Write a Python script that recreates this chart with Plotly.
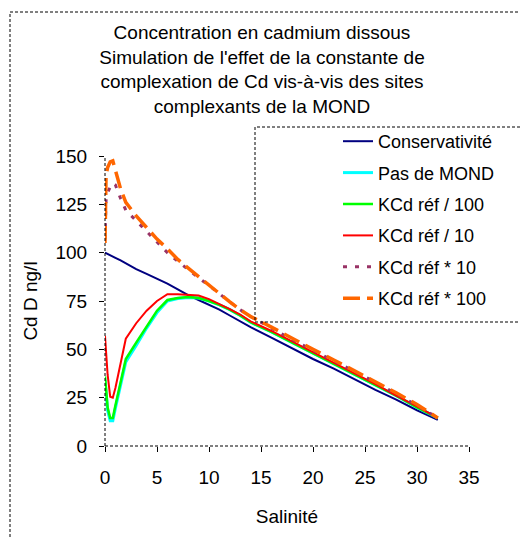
import plotly.graph_objects as go

salinity = [0, 0.1, 0.25, 0.5, 0.75, 1, 1.5, 2, 3, 4, 5, 6, 7, 8, 9, 10, 11, 12, 13, 14,
            16, 18, 20, 22, 24, 26, 28, 30, 32]

conservativite = [100, 99.7, 99.3, 98.7, 98, 97.3, 96, 94.5, 91.5, 89, 86.5, 84, 81, 78, 75.5,
                  73, 70.5, 67.5, 64.5, 61.5, 56, 50.5, 45, 40, 34.5, 29, 24, 18.5, 13.5]
pas_de_mond = [34, 28, 18.5, 13, 13, 19.5, 31.5, 43.5, 52, 61, 69, 75, 76.3, 76.8, 76.5,
               75, 73, 70.5, 67.5, 64, 59, 53.5, 48, 42.5, 37, 31.5, 26, 20, 14.5]
kcd_div100 = [36, 30, 20, 14.5, 14.5, 21, 33, 45, 53.5, 62, 70, 75.5, 76.5, 77, 76.5,
              75, 73, 70.5, 67.5, 64, 59, 53.5, 48, 42.5, 37, 31.5, 26, 20, 14.5]
kcd_div10 = [57, 48, 37, 25.5, 25, 30, 43, 55.5, 63.5, 70, 75, 78.5, 78.5, 78, 77.8,
             76, 73.5, 70.8, 68, 64.5, 59.5, 54, 48.5, 43, 37.5, 32, 26, 20.5, 14.5]
kcd_x10 = [107, 127, 131, 134, 136, 135, 128, 122, 116.5, 111, 105, 100, 95.5, 91, 87,
           83, 78.5, 74.5, 70.5, 67, 61, 55, 49.5, 44, 38.5, 33, 27, 21, 14.5]
kcd_x100 = [105, 140, 144, 147, 147.5, 143, 133, 126, 119, 113, 107, 102, 96.5, 92, 87.5,
            83, 78.5, 74.5, 70.5, 67, 61.5, 55.5, 50, 44.5, 39, 33.5, 27.5, 21.5, 14.5]

series_names = ["Conservativité", "Pas de MOND", "KCd réf / 100", "KCd réf / 10",
                "KCd réf * 10", "KCd réf * 100"]
series_values = [conservativite, pas_de_mond, kcd_div100, kcd_div10, kcd_x10, kcd_x100]
series_colors = ["#000080", "#00FFFF", "#00FF00", "#FF0000", "#993366", "#FF6600"]
series_widths = [2, 3, 2.5, 2, 3, 3.5]
series_dash = ["solid", "solid", "solid", "solid", "4px,8px", "17px,7px"]

x_ticks = [0, 5, 10, 15, 20, 25, 30, 35]
y_ticks = [0, 25, 50, 75, 100, 125, 150]

title_text = ("Concentration en cadmium dissous<br>Simulation de l'effet de la constante de<br>"
              "complexation de Cd vis-à-vis des sites<br>complexants de la MOND")

FONT = "Liberation Sans, Arial, sans-serif"

fig = go.Figure()
for i, (name, vals, col, w, d) in enumerate(zip(series_names, series_values, series_colors,
                                                 series_widths, series_dash)):
    fig.add_trace(go.Scatter(x=salinity, y=vals, mode="lines", name=name,
                             legendgroup=f"g{i}",
                             line=dict(color=col, width=w, dash=d)))

# plot area: x 105..469 px, y 156..446 px
W, H = 520, 537
L, R, T, B = 105, 51, 156, 91
pw, ph = W - L - R, H - T - B


def px_x(px):
    return (px - L) / pw


def px_y(py):
    return (H - B - py) / ph


fig.update_layout(
    width=W, height=H,
    margin=dict(l=L, r=R, t=T, b=B, autoexpand=False),
    paper_bgcolor="white", plot_bgcolor="white",
    font=dict(family=FONT, color="black", size=19),
    title=dict(text=title_text, x=262 / W, xanchor="center", xref="container",
               y=1 - 39 / H, yanchor="top", yref="container",
               font=dict(size=19, family=FONT, color="black")),
    showlegend=True,
    legend=dict(x=px_x(338), xanchor="left", y=px_y(123), yanchor="top",
                font=dict(size=18, family=FONT, color="black"),
                bgcolor="rgba(0,0,0,0)", borderwidth=0, tracegroupgap=5,
                traceorder="grouped"),
    xaxis=dict(range=[0, 35], tickvals=x_ticks, ticks="outside", ticklen=5,
               tickcolor="black", showgrid=False, zeroline=False, showline=False,
               title=dict(text="Salinité", standoff=22, font=dict(size=19)),
               tickfont=dict(size=19), ticklabelstandoff=9),
    yaxis=dict(range=[0, 150], tickvals=y_ticks, ticks="outside", ticklen=5,
               tickcolor="black", showgrid=False, zeroline=False, showline=False,
               title=dict(text="Cd D ng/l", standoff=12, font=dict(size=19)),
               tickfont=dict(size=19), ticklabelstandoff=8),
    shapes=[
        # dashed axis lines
        dict(type="line", xref="x domain", yref="y domain", x0=0, x1=0, y0=0, y1=1,
             line=dict(color="black", width=1, dash="3px,2px")),
        dict(type="line", xref="x domain", yref="y domain", x0=0, x1=1, y0=0, y1=0,
             line=dict(color="black", width=1, dash="3px,2px")),
        # legend frame
        dict(type="rect", xref="paper", yref="paper", x0=px_x(255), x1=px_x(530),
             y0=px_y(322), y1=px_y(127), line=dict(color="black", width=1, dash="3px,2px"),
             layer="above"),
        # chart frame
        dict(type="rect", xref="paper", yref="paper", x0=px_x(10), x1=px_x(560),
             y0=px_y(560), y1=px_y(12), line=dict(color="black", width=1, dash="3px,2px")),
    ],
)

fig.write_html("out.html")
